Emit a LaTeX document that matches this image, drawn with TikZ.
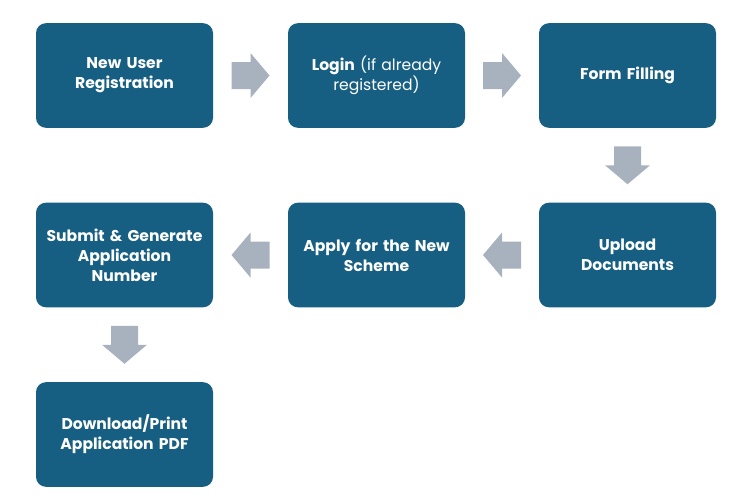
\documentclass[tikz,border=0pt]{standalone}
\usepackage{fontspec}
\setmainfont{Poppins}
\usetikzlibrary{calc}
\definecolor{boxblue}{HTML}{175F82}
\definecolor{arrowgray}{HTML}{A7B2BE}
\tikzset{
  x=0.75pt, y=-0.75pt,
  stepbox/.style={fill=boxblue, rounded corners=7.5pt, minimum width=132.75pt, minimum height=78.5pt,
    text=white, align=center, font=\fontsize{11.7}{15}\selectfont\bfseries, text width=128pt, inner sep=0pt},
  blockarrow/.pic={\fill[arrowgray] (-19,-13.5) -- (0,-13.5) -- (0,-22.5) -- (19,0) -- (0,22.5) -- (0,13.5) -- (-19,13.5) -- cycle;}
}
\begin{document}
\begin{tikzpicture}
\useasboundingbox (0,0) rectangle (737,501);
\node[stepbox] (a) at (124.5,75.5) {New User\\Registration};
\node[stepbox] (b) at (376.5,75.5) {Login {\mdseries(if already\\registered)}};
\node[stepbox] (c) at (627.5,75.5) {Form Filling};
\node[stepbox] (d) at (627.5,255) {Upload\\Documents};
\node[stepbox] (e) at (376.5,255) {Apply for the New\\Scheme};
\node[stepbox] (f) at (124.5,255) {Submit \& Generate\\Application\\Number};
\node[stepbox] (g) at (124.5,434.5) {Download/Print\\Application PDF};
\pic at ($(a.east)!0.5!(b.west)$) {blockarrow};
\pic at ($(b.east)!0.5!(c.west)$) {blockarrow};
\pic[rotate=-90] at ($(c.south)!0.5!(d.north)$) {blockarrow};
\pic[rotate=180] at ($(d.west)!0.5!(e.east)$) {blockarrow};
\pic[rotate=180] at ($(e.west)!0.5!(f.east)$) {blockarrow};
\pic[rotate=-90] at ($(f.south)!0.5!(g.north)$) {blockarrow};
\end{tikzpicture}
\end{document}
